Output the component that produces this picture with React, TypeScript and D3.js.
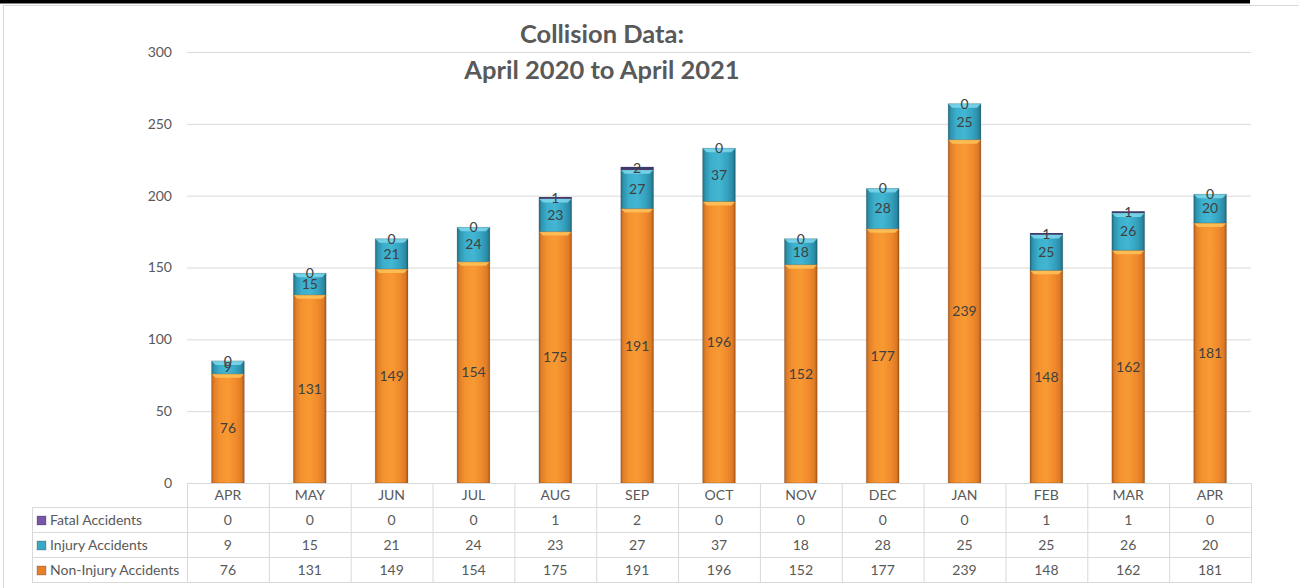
import { useEffect, useRef } from "react"
import * as d3 from "d3"

const months = ["APR", "MAY", "JUN", "JUL", "AUG", "SEP", "OCT", "NOV", "DEC", "JAN", "FEB", "MAR", "APR"]
const fatal = [0, 0, 0, 0, 1, 2, 0, 0, 0, 0, 1, 1, 0]
const injury = [9, 15, 21, 24, 23, 27, 37, 18, 28, 25, 25, 26, 20]
const nonInjury = [76, 131, 149, 154, 175, 191, 196, 152, 177, 239, 148, 162, 181]
const yTicks = [0, 50, 100, 150, 200, 250, 300]

const FONT = "Lato, 'Open Sans', sans-serif"
const TXT = "#595959"

export default function App() {
  const svgRef = useRef<SVGSVGElement>(null)

  useEffect(() => {
    if (!svgRef.current) return
    const svg = d3.select(svgRef.current)
    svg.selectAll("*").remove()

    const width = 1299
    const height = 588
    const left = 187
    const right = 1251
    const top = 52
    const bottom = 483

    svg.attr("width", width).attr("height", height)

    // page frame
    svg.append("rect").attr("x", 0).attr("y", 0).attr("width", width).attr("height", height).attr("fill", "#fff")
    svg.append("rect").attr("x", 3.5).attr("y", 5.5).attr("width", width + 10).attr("height", height + 10)
      .attr("fill", "none").attr("stroke", "#d9d9d9").attr("stroke-width", 1)
    svg.append("rect").attr("x", 0).attr("y", 0).attr("width", 1250).attr("height", 3.5).attr("fill", "#000")

    const defs = svg.append("defs")
    const grad = (id: string, stops: [number, string][]) => {
      const g = defs.append("linearGradient").attr("id", id)
        .attr("x1", "0%").attr("x2", "100%").attr("y1", "0%").attr("y2", "0%")
      stops.forEach(([o, c]) => g.append("stop").attr("offset", `${o}%`).attr("stop-color", c))
    }
    grad("g-orange", [[0, "#b85f1c"], [8, "#e07f28"], [25, "#f5922f"], [50, "#f89a33"], [75, "#f08a2c"], [92, "#dc7a26"], [100, "#ad5718"]])
    grad("g-teal", [[0, "#1d6f85"], [8, "#2f93ae"], [25, "#3bafcc"], [50, "#42b6d2"], [75, "#35a3c0"], [92, "#2b8aa4"], [100, "#1b657a"]])
    grad("g-purple", [[0, "#4a3470"], [50, "#7a56a8"], [100, "#4a3470"]])

    const x = d3.scaleBand<number>().domain(d3.range(months.length)).range([left, right]).paddingInner(0.6).paddingOuter(0.3)
    const band = d3.scaleBand<number>().domain(d3.range(months.length)).range([left, right])
    const y = d3.scaleLinear().domain([0, 300]).range([bottom, top])

    // grid
    svg.append("g").selectAll("line").data(yTicks.filter(t => t > 0)).join("line")
      .attr("x1", left).attr("x2", right)
      .attr("y1", d => y(d) + 0.5).attr("y2", d => y(d) + 0.5)
      .attr("stroke", "#d9d9d9").attr("stroke-width", 1)

    svg.append("g").selectAll("text").data(yTicks).join("text")
      .attr("x", 172).attr("y", d => y(d)).attr("dy", "0.35em")
      .attr("text-anchor", "end").attr("font-family", FONT).attr("font-size", 14).attr("fill", TXT)
      .text(d => d)

    // title
    const title = svg.append("text").attr("text-anchor", "middle").attr("font-family", FONT)
      .attr("font-weight", "bold").attr("font-size", 25.5).attr("fill", TXT)
    title.append("tspan").attr("x", 602).attr("y", 43).text("Collision Data:")
    title.append("tspan").attr("x", 602).attr("y", 79).text("April 2020 to April 2021")

    const series = [
      { name: "Non-Injury Accidents", values: nonInjury, fill: "url(#g-orange)", hi: "#ffc35a", key: "#e8802a" },
      { name: "Injury Accidents", values: injury, fill: "url(#g-teal)", hi: "#7fd8ec", key: "#3aa9c6" },
      { name: "Fatal Accidents", values: fatal, fill: "url(#g-purple)", hi: "#9b7cc4", key: "#7a56a8" },
    ]

    const bars = svg.append("g")
    months.forEach((_, i) => {
      let base = 0
      series.forEach(s => {
        const v = s.values[i]
        const y0 = y(base)
        const y1 = y(base + v)
        const bx = x(i)!
        const bw = x.bandwidth()
        if (v > 0) {
          bars.append("rect").attr("x", bx).attr("y", y1).attr("width", bw).attr("height", y0 - y1)
            .attr("fill", s.fill)
          if (y0 - y1 > 8) {
            bars.append("path")
              .attr("d", `M${bx},${y1} L${bx + bw},${y1} L${bx + bw - 4},${y1 + 4} L${bx + 4},${y1 + 4} Z`)
              .attr("fill", s.hi).attr("opacity", 0.85)
            bars.append("rect").attr("x", bx).attr("y", y1).attr("width", bw).attr("height", y0 - y1)
              .attr("fill", "none").attr("stroke", "#000").attr("stroke-opacity", 0.15)
          } else {
            bars.append("rect").attr("x", bx).attr("y", y1).attr("width", bw).attr("height", Math.max(y0 - y1, 1.5))
              .attr("fill", "#3f3a66")
          }
        }
        bars.append("text")
          .attr("x", bx + bw / 2).attr("y", (y0 + y1) / 2).attr("dy", "0.35em")
          .attr("text-anchor", "middle").attr("font-family", FONT).attr("font-size", 14).attr("fill", "#404040")
          .text(v)
        base += v
      })
    })

    // data table
    const rowH = 25
    const tableTop = bottom
    const tableLeft = 32
    const rows = [series[2], series[1], series[0]]
    const tbl = svg.append("g").attr("stroke", "#d9d9d9").attr("stroke-width", 1)
    tbl.append("line").attr("x1", left).attr("x2", right).attr("y1", tableTop + 0.5).attr("y2", tableTop + 0.5)
    for (let r = 1; r <= 4; r++) {
      tbl.append("line").attr("x1", tableLeft).attr("x2", right)
        .attr("y1", tableTop + r * rowH - 0.5).attr("y2", tableTop + r * rowH - 0.5)
    }
    months.forEach((_, i) => {
      const xx = band(i)! + 0.5
      tbl.append("line").attr("x1", xx).attr("x2", xx).attr("y1", tableTop).attr("y2", tableTop + 4 * rowH)
    })
    tbl.append("line").attr("x1", right + 0.5).attr("x2", right + 0.5).attr("y1", tableTop).attr("y2", tableTop + 4 * rowH)
    tbl.append("line").attr("x1", tableLeft + 0.5).attr("x2", tableLeft + 0.5).attr("y1", tableTop + rowH).attr("y2", tableTop + 4 * rowH)

    const txt = svg.append("g").attr("font-family", FONT).attr("font-size", 14).attr("fill", TXT)
    months.forEach((m, i) => {
      txt.append("text").attr("x", band(i)! + band.bandwidth() / 2).attr("y", tableTop + rowH / 2).attr("dy", "0.35em")
        .attr("text-anchor", "middle").text(m)
    })
    rows.forEach((s, r) => {
      const cy = tableTop + (r + 1) * rowH + rowH / 2
      svg.append("rect").attr("x", 37).attr("y", cy - 4.5).attr("width", 9).attr("height", 9)
        .attr("fill", s.key).attr("stroke", "#00000040").attr("stroke-width", 0.8)
      txt.append("text").attr("x", 50).attr("y", cy).attr("dy", "0.35em").text(s.name)
      s.values.forEach((v, i) => {
        txt.append("text").attr("x", band(i)! + band.bandwidth() / 2).attr("y", cy).attr("dy", "0.35em")
          .attr("text-anchor", "middle").text(v)
      })
    })
  }, [])

  return (
    <div style={{ position: "fixed", left: 0, top: 0 }}>
      <svg ref={svgRef} style={{ display: "block" }} />
    </div>
  )
}
